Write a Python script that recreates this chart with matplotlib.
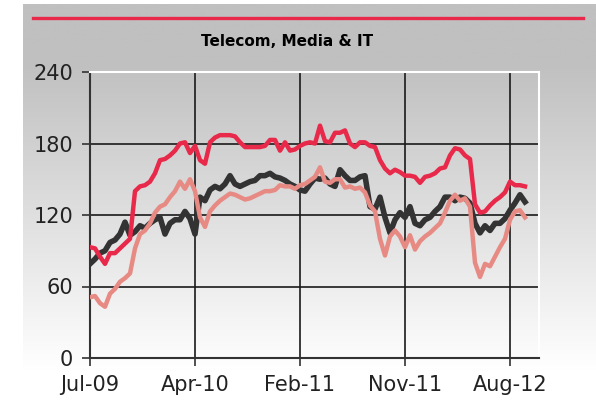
import numpy as np
import matplotlib
matplotlib.use("Agg")
import matplotlib.pyplot as plt

# values, one sample per step along the time axis
red_vals = [93, 92, 85, 79, 88, 88, 92, 96, 100, 140, 144, 145, 148, 155, 166, 167, 170, 174,
            180, 181, 172, 178, 166, 163, 181, 185, 187, 187, 187, 186, 181, 177, 177, 177, 177,
            178, 183, 183, 174, 181, 174, 175, 178, 180, 181, 180, 195, 182, 181, 189, 189, 191,
            180, 177, 181, 181, 178, 177, 166, 159, 155, 158, 156, 153, 153, 152, 147, 152, 153,
            155, 159, 160, 170, 176, 175, 170, 167, 129, 122, 123, 128, 132, 135, 139, 148, 145,
            145, 144]
dark_vals = [79, 83, 88, 90, 97, 99, 104, 114, 103, 106, 111, 109, 113, 116, 118, 104, 113, 116,
             116, 123, 117, 104, 135, 132, 141, 144, 142, 146, 153, 146, 144, 146, 148, 149, 153,
             153, 155, 152, 151, 149, 146, 144, 141, 140, 146, 151, 150, 151, 146, 144, 158, 153,
             149, 149, 152, 153, 127, 125, 135, 118, 105, 116, 122, 118, 127, 113, 111, 116, 118,
             123, 127, 135, 135, 132, 135, 134, 130, 113, 105, 111, 107, 113, 113, 117, 124, 130,
             137, 131]
pink_vals = [51, 52, 46, 43, 54, 58, 64, 67, 71, 92, 104, 107, 113, 122, 127, 129, 135, 140,
             148, 142, 150, 140, 118, 110, 123, 128, 132, 135, 138, 137, 135, 133, 134, 136, 138,
             140, 140, 141, 145, 144, 144, 142, 145, 146, 149, 152, 160, 148, 147, 150, 150, 143,
             144, 142, 143, 139, 128, 123, 100, 86, 102, 107, 102, 93, 103, 91, 98, 102, 105,
             109, 113, 122, 132, 137, 132, 134, 127, 80, 68, 79, 77, 85, 93, 100, 116, 123,
             124, 118]
tick_labels = ["Jul-09", "Apr-10", "Feb-11", "Nov-11", "Aug-12"]
tick_pos = [0, 21, 42, 63, 84]
y_ticks = [0, 60, 120, 180, 240]

fig = plt.figure(figsize=(5.96, 4.0), dpi=100)

# grey-to-white backdrop behind everything
bg = fig.add_axes([23 / 596, 0, 1 - 23 / 596, 1 - 4 / 400], zorder=-10)
rows = np.linspace(0, 1, 400)
shade = np.clip((rows * 400 - 60) / 310, 0, 1)
grad = (192 + 63 * shade)[:, None, None] / 255.0 * np.ones((1, 1, 3))
bg.imshow(grad, aspect="auto", extent=[0, 1, 0, 1])
bg.axis("off")

# red rule and title
fig.add_artist(plt.Line2D([33 / 596, 583 / 596], [1 - 18 / 400] * 2, color="#e8294a", lw=2.4))
fig.text(287 / 596, 1 - 41 / 400, "Telecom, Media & IT", ha="center", va="center",
         fontsize=11, fontweight="bold", color="black")

ax = fig.add_axes([90 / 596, 1 - 358 / 400, 449 / 596, 286 / 400])
ax.set_facecolor("none")
x = np.arange(len(red_vals))
ax.plot(x, dark_vals, color="#333333", lw=4.0, zorder=3)
ax.plot(x, pink_vals, color="#e88a84", lw=3.2, zorder=4)
ax.plot(x, red_vals, color="#e8294a", lw=3.2, zorder=5)

ax.set_xlim(0, 449 / 5)
ax.set_ylim(0, 240)
ax.set_xticks(tick_pos)
ax.set_xticklabels(tick_labels)
ax.set_yticks(y_ticks)
ax.grid(True, color="#1a1a1a", lw=1.2)
ax.set_axisbelow(True)
for side in ["left", "bottom"]:
    ax.spines[side].set_color("#333333")
    ax.spines[side].set_linewidth(1.5)
for side in ["top", "right"]:
    ax.spines[side].set_color("white")
    ax.spines[side].set_linewidth(1.5)
ax.tick_params(axis="both", length=6, width=1.2, color="#333333", labelsize=15, labelcolor="#222222")
ax.tick_params(axis="y", pad=6)
ax.tick_params(axis="x", pad=6)

fig.savefig("out.png", dpi=100)
